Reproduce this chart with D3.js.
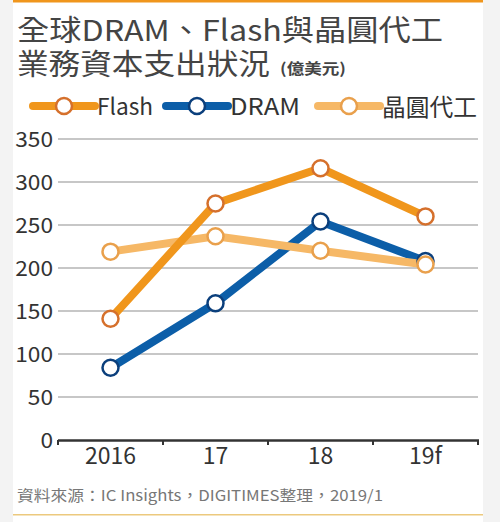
<!DOCTYPE html>
<html>
<head>
<meta charset="utf-8">
<script src="https://cdn.jsdelivr.net/npm/d3@7"></script>
<style>
  body { margin: 0; background: #f3f3f3; }
  svg { display: block; }
  text { font-family: "Noto Sans CJK TC", "Liberation Sans", sans-serif; }
</style>
</head>
<body>
<svg width="500" height="522"></svg>
<script>
// data (億美元)
var years = ["2016", "17", "18", "19f"];
var flash = [141, 275, 316, 260];
var dram = [84, 159, 254, 208];
var foundry = [219, 237, 220, 204];
var yTicks = [0, 50, 100, 150, 200, 250, 300, 350];

// drawing order: DRAM under foundry under Flash
var series = [
    { name: "DRAM", values: dram, line: "#0c5ea8", ring: "#0b3f7c" },
    { name: "晶圓代工", values: foundry, line: "#f6b866", ring: "#e9a04c" },
    { name: "Flash", values: flash, line: "#f0961c", ring: "#d5702c" }
];

var svg = d3.select("svg");
var latin = "Liberation Sans, Arial, sans-serif";

// white panel with top orange bar and bottom gold rule
svg.append("rect").attr("x", 13).attr("y", 0).attr("width", 470).attr("height", 522).attr("fill", "#fff");
svg.append("rect").attr("x", 13).attr("y", 0).attr("width", 470).attr("height", 2.5).attr("fill", "#f0961c");
svg.append("rect").attr("x", 13).attr("y", 514).attr("width", 470).attr("height", 1.5).attr("fill", "#ecc97e");

// title
svg.append("text").attr("x", 17).attr("y", 41)
    .attr("font-size", 29).attr("fill", "#444")
    .attr("textLength", 426).attr("lengthAdjust", "spacingAndGlyphs")
    .text("全球DRAM、Flash與晶圓代工");
svg.append("text").attr("x", 17).attr("y", 75)
    .attr("font-size", 29).attr("fill", "#444")
    .attr("textLength", 253).attr("lengthAdjust", "spacingAndGlyphs")
    .text("業務資本支出狀況");
svg.append("text").attr("x", 280).attr("y", 74)
    .attr("font-size", 15).attr("font-weight", "bold").attr("fill", "#444")
    .attr("textLength", 66).attr("lengthAdjust", "spacingAndGlyphs")
    .text("(億美元)");

// scales
var x = d3.scalePoint().domain(years).range([58, 478]).padding(0.5);
var y = d3.scaleLinear().domain([0, 350]).range([440, 139]);

// gridlines
svg.append("g").selectAll("line")
    .data(yTicks.filter(function(d) { return d > 0; }))
    .enter().append("line")
    .attr("x1", 58).attr("x2", 478)
    .attr("y1", function(d) { return y(d); })
    .attr("y2", function(d) { return y(d); })
    .attr("stroke", "#b4b4b4").attr("stroke-width", 1.5);

// y axis labels
svg.append("g").selectAll("text")
    .data(yTicks)
    .enter().append("text")
    .attr("x", 53)
    .attr("y", function(d) { return y(d) + 7.5; })
    .attr("text-anchor", "end")
    .attr("font-family", latin)
    .attr("font-size", 21).attr("fill", "#333")
    .attr("textLength", function(d) { return String(d).length * 12.6; })
    .attr("lengthAdjust", "spacingAndGlyphs")
    .text(function(d) { return d; });

// x axis
var xAxis = d3.axisBottom(d3.scaleBand().domain(years).range([58, 478]))
    .tickSize(0).tickPadding(8);
var gx = svg.append("g").attr("transform", "translate(0,440)").call(xAxis);
gx.select(".domain").remove();
gx.selectAll("text")
    .attr("font-family", latin)
    .attr("font-size", 23).attr("fill", "#333");
svg.append("line").attr("x1", 58).attr("x2", 479).attr("y1", 440.5).attr("y2", 440.5)
    .attr("stroke", "#333").attr("stroke-width", 2.5);
var bounds = [58].concat(years.map(function(d) { return x(d) + x.step() / 2; }));
svg.append("g").selectAll("line")
    .data(bounds)
    .enter().append("line")
    .attr("x1", function(d) { return d; }).attr("x2", function(d) { return d; })
    .attr("y1", 440).attr("y2", 445)
    .attr("stroke", "#333").attr("stroke-width", 2);

// lines and markers
var line = d3.line()
    .x(function(d, i) { return x(years[i]); })
    .y(function(d) { return y(d); });

series.forEach(function(s) {
    svg.append("path").datum(s.values)
        .attr("d", line)
        .attr("fill", "none")
        .attr("stroke", s.line).attr("stroke-width", 8)
        .attr("stroke-linejoin", "round");
});
series.forEach(function(s) {
    svg.append("g").selectAll("circle")
        .data(s.values)
        .enter().append("circle")
        .attr("cx", function(d, i) { return x(years[i]); })
        .attr("cy", function(d) { return y(d); })
        .attr("r", 8)
        .attr("fill", "#fff")
        .attr("stroke", s.ring).attr("stroke-width", 2.5);
});

// legend
var legend = [
    { name: "Flash", x: 33, line: "#f0961c", ring: "#d5702c", tw: 56, cjk: false },
    { name: "DRAM", x: 166, line: "#0c5ea8", ring: "#0b3f7c", tw: 70, cjk: false },
    { name: "晶圓代工", x: 318, line: "#f6b866", ring: "#e9a04c", tw: 95, cjk: true }
];
var lg = svg.append("g").selectAll("g").data(legend).enter().append("g")
    .attr("transform", function(d) { return "translate(" + d.x + ",106)"; });
lg.append("line").attr("x1", 0).attr("x2", 62).attr("y1", 0).attr("y2", 0)
    .attr("stroke", function(d) { return d.line; }).attr("stroke-width", 8)
    .attr("stroke-linecap", "round");
lg.append("circle").attr("cx", 31).attr("cy", 0).attr("r", 8)
    .attr("fill", "#fff")
    .attr("stroke", function(d) { return d.ring; }).attr("stroke-width", 2.5);
lg.append("text").attr("x", 64).attr("y", function(d) { return d.cjk ? 10 : 8.5; })
    .attr("font-size", function(d) { return d.cjk ? 24 : 23; }).attr("fill", "#333")
    .attr("font-family", function(d) { return d.cjk ? "Noto Sans CJK TC" : latin; })
    .attr("textLength", function(d) { return d.tw; })
    .attr("lengthAdjust", "spacingAndGlyphs")
    .text(function(d) { return d.name; });

// source
svg.append("text").attr("x", 17).attr("y", 501)
    .attr("font-size", 15).attr("fill", "#777")
    .attr("textLength", 366).attr("lengthAdjust", "spacingAndGlyphs")
    .text("資料來源：IC Insights，DIGITIMES整理，2019/1");
</script>
</body>
</html>
